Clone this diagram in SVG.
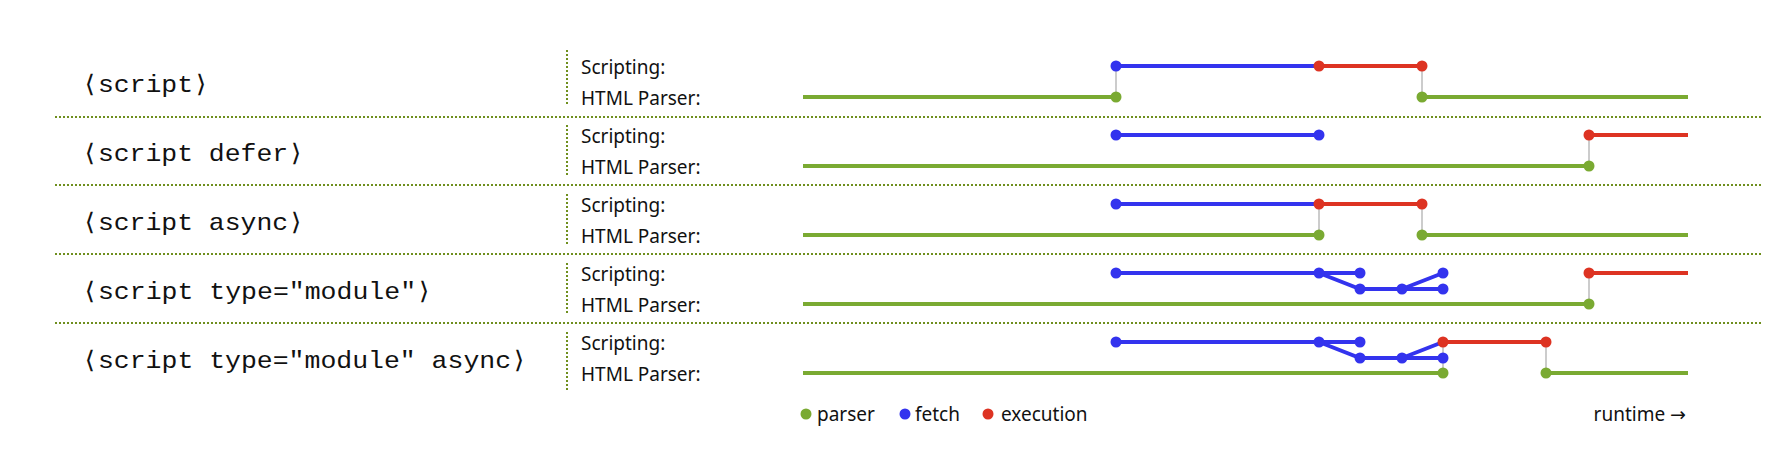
<svg xmlns="http://www.w3.org/2000/svg" width="1787" height="459" viewBox="0 0 1787 459">
<style>
.lbl{font-family:"Liberation Mono","DejaVu Sans Mono",monospace;font-size:24px;fill:#111}
.sm{font-family:"Noto Sans","Liberation Sans",sans-serif;font-size:19px;fill:#111}
.sep{stroke:#6f8f1e;stroke-width:2;stroke-dasharray:2 2}
.div{stroke:#6f8f1e;stroke-width:2;stroke-dasharray:2 2}
.g{stroke:#7aaa32;stroke-width:4;fill:none}
.b{stroke:#3333ee;stroke-width:4;fill:none}
.r{stroke:#dd3322;stroke-width:4;fill:none}
.c{stroke:#cccccc;stroke-width:2}
.dg{fill:#7aaa32}.db{fill:#3333ee}.dr{fill:#dd3322}
</style>
<g id="separators">
<line class="sep" x1="55" y1="117" x2="1762" y2="117"/>
<line class="sep" x1="55" y1="185" x2="1762" y2="185"/>
<line class="sep" x1="55" y1="254" x2="1762" y2="254"/>
<line class="sep" x1="55" y1="323" x2="1762" y2="323"/>
</g>
<g id="labels">
<text class="lbl" x="82" y="92" textLength="127" lengthAdjust="spacingAndGlyphs">⟨script⟩</text>
<text class="lbl" x="82" y="161" textLength="222" lengthAdjust="spacingAndGlyphs">⟨script defer⟩</text>
<text class="lbl" x="82" y="230" textLength="222" lengthAdjust="spacingAndGlyphs">⟨script async⟩</text>
<text class="lbl" x="82" y="299" textLength="350" lengthAdjust="spacingAndGlyphs">⟨script type=″module″⟩</text>
<text class="lbl" x="82" y="368" textLength="445" lengthAdjust="spacingAndGlyphs">⟨script type=″module″ async⟩</text>
</g>
<g id="dividers">
<line class="div" x1="567" y1="50" x2="567" y2="106"/>
<line class="div" x1="567" y1="125" x2="567" y2="177"/>
<line class="div" x1="567" y1="194" x2="567" y2="246"/>
<line class="div" x1="567" y1="263" x2="567" y2="315"/>
<line class="div" x1="567" y1="332" x2="567" y2="390"/>
</g>
<g id="tracklabels">
<text class="sm" x="581" y="74">Scripting:</text><text class="sm" x="581" y="105">HTML Parser:</text>
<text class="sm" x="581" y="143">Scripting:</text><text class="sm" x="581" y="174">HTML Parser:</text>
<text class="sm" x="581" y="212">Scripting:</text><text class="sm" x="581" y="243">HTML Parser:</text>
<text class="sm" x="581" y="281">Scripting:</text><text class="sm" x="581" y="312">HTML Parser:</text>
<text class="sm" x="581" y="350">Scripting:</text><text class="sm" x="581" y="381">HTML Parser:</text>
</g>
<g id="connectors">
<line class="c" x1="1116" y1="66" x2="1116" y2="97"/><line class="c" x1="1422" y1="66" x2="1422" y2="97"/>
<line class="g" x1="803" y1="97" x2="1116" y2="97"/><line class="g" x1="1422" y1="97" x2="1688" y2="97"/>
<line class="b" x1="1116" y1="66" x2="1319" y2="66"/><line class="r" x1="1319" y1="66" x2="1422" y2="66"/>
<line class="c" x1="1589" y1="135" x2="1589" y2="166"/>
<line class="g" x1="803" y1="166" x2="1589" y2="166"/>
<line class="b" x1="1116" y1="135" x2="1319" y2="135"/><line class="r" x1="1589" y1="135" x2="1688" y2="135"/>
<line class="c" x1="1319" y1="204" x2="1319" y2="235"/><line class="c" x1="1422" y1="204" x2="1422" y2="235"/>
<line class="g" x1="803" y1="235" x2="1319" y2="235"/><line class="g" x1="1422" y1="235" x2="1688" y2="235"/>
<line class="b" x1="1116" y1="204" x2="1319" y2="204"/><line class="r" x1="1319" y1="204" x2="1422" y2="204"/>
<line class="c" x1="1589" y1="273" x2="1589" y2="304"/>
<line class="g" x1="803" y1="304" x2="1589" y2="304"/>
<path class="b" d="M1116 273H1360M1319 273L1360 289H1443M1402 289L1443 273"/>
<line class="r" x1="1589" y1="273" x2="1688" y2="273"/>
<line class="c" x1="1443" y1="342" x2="1443" y2="373"/><line class="c" x1="1546" y1="342" x2="1546" y2="373"/>
<line class="g" x1="803" y1="373" x2="1443" y2="373"/><line class="g" x1="1546" y1="373" x2="1688" y2="373"/>
<path class="b" d="M1116 342H1360M1319 342L1360 358H1443M1402 358L1443 342"/>
<line class="r" x1="1443" y1="342" x2="1546" y2="342"/>
</g>
<g id="dots">
<g class="dg"><circle cx="1116" cy="97" r="5.5"/><circle cx="1422" cy="97" r="5.5"/><circle cx="1589" cy="166" r="5.5"/><circle cx="1319" cy="235" r="5.5"/><circle cx="1422" cy="235" r="5.5"/><circle cx="1589" cy="304" r="5.5"/><circle cx="1443" cy="373" r="5.5"/><circle cx="1546" cy="373" r="5.5"/></g>
<g class="db"><circle cx="1116" cy="66" r="5.5"/><circle cx="1116" cy="135" r="5.5"/><circle cx="1319" cy="135" r="5.5"/><circle cx="1116" cy="204" r="5.5"/>
<circle cx="1116" cy="273" r="5.5"/><circle cx="1319" cy="273" r="5.5"/><circle cx="1360" cy="273" r="5.5"/><circle cx="1360" cy="289" r="5.5"/><circle cx="1402" cy="289" r="5.5"/><circle cx="1443" cy="289" r="5.5"/><circle cx="1443" cy="273" r="5.5"/>
<circle cx="1116" cy="342" r="5.5"/><circle cx="1319" cy="342" r="5.5"/><circle cx="1360" cy="342" r="5.5"/><circle cx="1360" cy="358" r="5.5"/><circle cx="1402" cy="358" r="5.5"/><circle cx="1443" cy="358" r="5.5"/></g>
<g class="dr"><circle cx="1319" cy="66" r="5.5"/><circle cx="1422" cy="66" r="5.5"/><circle cx="1589" cy="135" r="5.5"/><circle cx="1319" cy="204" r="5.5"/><circle cx="1422" cy="204" r="5.5"/><circle cx="1589" cy="273" r="5.5"/><circle cx="1443" cy="342" r="5.5"/><circle cx="1546" cy="342" r="5.5"/></g>
</g>
<g id="legend">
<circle class="dg" cx="806" cy="414" r="5.5"/><text class="sm" x="817" y="421">parser</text>
<circle class="db" cx="905" cy="414" r="5.5"/><text class="sm" x="915" y="421">fetch</text>
<circle class="dr" cx="988" cy="414" r="5.5"/><text class="sm" x="1001" y="421">execution</text>
<text class="sm" x="1686" y="421" text-anchor="end">runtime <tspan font-family="DejaVu Sans">→</tspan></text>
</g>
</svg>
